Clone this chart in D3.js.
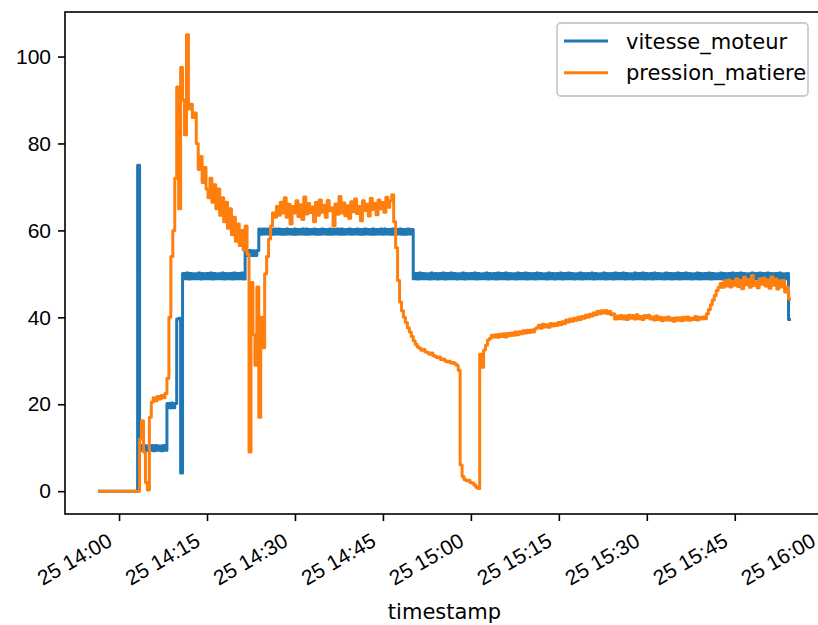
<!DOCTYPE html>
<html>
<head>
<meta charset="utf-8">
<script src="https://cdn.jsdelivr.net/npm/d3@7"></script>
<style>
  body { margin: 0; background: #fff; }
  svg { display: block; font-family: "DejaVu Sans", sans-serif; }
</style>
</head>
<body>
<svg id="chart"></svg>
<script>
// one reading every 20 s, first one at 13:56:40
const startTime = new Date(2023, 0, 25, 13, 56, 40)
const stepSeconds = 20

const seriesNames = ["vitesse_moteur", "pression_matiere"]
const yTicks = [0, 20, 40, 60, 80, 100]

// each row = 5 minutes (15 readings), first row is 13:56:40 -> 14:00:00
const vitesseMoteur = [
    0, 0, 0, 0, 0, 0, 0, 0, 0, 0, 0,
    0, 0, 0, 0, 0, 0, 0, 0, 0, 75, 10.5, 9.4, 10.5, 9.3, 10.4,
    9.4, 10.5, 9.3, 10.5, 9.4, 10.4, 9.3, 10.5, 9.4, 20.2, 19.2, 20.3, 19.2, 20.2, 39.6,
    39.8, 4.2, 50.1, 48.9, 50.2, 48.8, 50.1, 48.9, 50.0, 48.9, 50.2, 48.8, 50.1, 48.9, 50.1,
    48.9, 50.2, 48.8, 50.1, 48.9, 50.0, 48.9, 50.2, 48.8, 50.1, 48.9, 50.1, 48.8, 50.2, 48.9,
    50.1, 48.9, 50.2, 48.8, 55.4, 54.2, 55.4, 54.2, 55.3, 54.2, 55.4, 60.3, 59.1, 60.3, 59.2,
    60.3, 59.1, 60.2, 59.1, 60.3, 59.2, 60.3, 59.1, 60.2, 59.1, 60.3, 59.2, 60.2, 59.1, 60.3,
    59.1, 60.2, 59.2, 60.3, 59.1, 60.3, 59.1, 60.2, 59.2, 60.3, 59.1, 60.2, 59.1, 60.3, 59.2,
    60.2, 59.1, 60.3, 59.1, 60.2, 59.2, 60.3, 59.1, 60.3, 59.1, 60.2, 59.2, 60.3, 59.1, 60.2,
    59.2, 60.3, 59.1, 60.2, 59.1, 60.3, 59.2, 60.2, 59.1, 60.3, 59.1, 60.2, 59.2, 60.3, 59.1,
    60.3, 59.2, 60.2, 59.1, 60.3, 59.1, 60.2, 59.2, 60.3, 59.1, 60.2, 59.1, 60.3, 59.2, 60.2,
    48.9, 50.1, 48.8, 50.2, 48.9, 50.1, 48.9, 50.0, 48.8, 50.2, 48.9, 50.1, 48.8, 50.1, 48.9,
    50.2, 48.8, 50.1, 48.9, 50.2, 48.9, 50.1, 48.8, 50.0, 48.9, 50.2, 48.8, 50.1, 48.9, 50.1,
    48.9, 50.2, 48.8, 50.1, 48.9, 50.0, 48.9, 50.2, 48.8, 50.1, 48.9, 50.1, 48.8, 50.2, 48.9,
    50.1, 48.9, 50.2, 48.8, 50.1, 48.9, 50.0, 48.8, 50.2, 48.9, 50.1, 48.9, 50.2, 48.8, 50.1,
    48.9, 50.1, 48.8, 50.2, 48.9, 50.1, 48.9, 50.0, 48.8, 50.2, 48.9, 50.1, 48.8, 50.1, 48.9,
    50.2, 48.8, 50.1, 48.9, 50.2, 48.9, 50.1, 48.8, 50.0, 48.9, 50.2, 48.8, 50.1, 48.9, 50.1,
    48.9, 50.2, 48.8, 50.1, 48.9, 50.0, 48.9, 50.2, 48.8, 50.1, 48.9, 50.1, 48.8, 50.2, 48.9,
    50.1, 48.9, 50.2, 48.8, 50.1, 48.9, 50.0, 48.8, 50.2, 48.9, 50.1, 48.9, 50.2, 48.8, 50.1,
    48.9, 50.1, 48.8, 50.2, 48.9, 50.1, 48.9, 50.0, 48.8, 50.2, 48.9, 50.1, 48.8, 50.1, 48.9,
    50.2, 48.8, 50.1, 48.9, 50.2, 48.9, 50.1, 48.8, 50.0, 48.9, 50.2, 48.8, 50.1, 48.9, 50.1,
    48.9, 50.2, 48.8, 50.1, 48.9, 50.0, 48.9, 50.2, 48.8, 50.1, 48.9, 50.1, 48.8, 50.2, 48.9,
    50.1, 48.9, 50.2, 48.8, 50.1, 48.9, 50.0, 48.8, 50.2, 48.9, 50.1, 48.9, 50.2, 48.8, 50.1,
    48.9, 50.2, 48.8, 50.1, 48.9, 50.1, 48.8, 50.2, 48.9, 50.0, 48.9, 50.1, 39.5
]

const pressionMatiere = [
    0, 0, 0, 0, 0, 0, 0, 0, 0, 0, 0,
    0, 0, 0, 0, 0, 0, 0, 0, 0, 0, 12, 16.2, 9, 2, 0.3,
    17, 20.5, 21.5, 20.8, 21.8, 21.2, 22, 21.5, 22.5, 26, 40, 54, 60, 72, 93,
    65, 97.5, 90, 82, 105, 88, 89, 86, 87, 80, 74, 77, 71, 74.5, 69.5,
    67.5, 72, 66.5, 70.5, 65, 69.5, 63.5, 67.5, 62, 66.5, 60.5, 65, 59, 63, 57.5,
    61.5, 56.5, 60, 55.5, 61, 54.5, 9, 48, 36, 29, 47, 17, 40, 33, 50,
    54, 58, 61, 64, 63, 65.5, 63.5, 66.5, 64.0, 67.5, 63.0, 66.0, 61.5, 65.5, 64.0,
    66.8, 63.2, 65.9, 62.5, 67.7, 63.8, 66.2, 64.1, 65.4, 62.0, 66.5, 63.5, 67.0, 64.2, 65.8,
    63.0, 66.9, 64.5, 65.2, 61.0, 66.1, 63.7, 67.8, 64.0, 66.3, 63.4, 65.7, 62.8, 66.6, 64.3,
    67.2, 63.9, 65.5, 62.2, 66.8, 64.6, 66.0, 63.3, 67.4, 64.8, 66.2, 63.6, 67.0, 65.0, 66.4,
    64.2, 67.6, 65.3, 66.8, 68.2, 62, 56, 48.5, 43.5, 41.5, 40, 38.8, 37.6, 36.6, 35.6,
    34.6, 33.8, 33.2, 32.9, 32.4, 32.6, 32.0, 31.9, 31.5, 31.8, 31.2, 31.0, 30.7, 30.9, 30.3,
    30.4, 30.0, 29.8, 29.9, 29.5, 29.6, 29.3, 29.0, 27.8, 6, 3.4, 2.7, 2.4, 2.5, 2.0,
    1.9, 1.4, 0.9, 0.6, 31.5, 28.5, 32.5, 33.6, 34.8, 35.2, 35.9, 35.5, 36.0, 35.4, 36.1,
    35.6, 36.2, 35.5, 36.3, 35.8, 36.4, 35.9, 36.6, 36.0, 36.7, 36.2, 36.9, 36.4, 37.0, 36.5,
    37.1, 36.6, 37.3, 37.6, 38.2, 37.5, 38.4, 37.8, 38.3, 37.7, 38.6, 38.0, 38.5, 38.1, 38.8,
    38.3, 39.0, 38.6, 39.4, 38.9, 39.6, 39.1, 39.8, 39.3, 40.0, 39.5, 40.2, 39.8, 40.5, 40.0,
    40.7, 40.3, 41.0, 40.6, 41.4, 40.8, 41.5, 41.0, 41.6, 40.9, 41.4, 40.6, 40.8, 39.6, 40.3,
    39.7, 40.4, 39.6, 40.3, 39.5, 40.5, 39.8, 40.4, 39.6, 40.6, 39.7, 40.2, 39.5, 40.4, 39.9,
    40.5, 39.6, 40.1, 39.4, 40.3, 39.5, 40.0, 39.2, 39.9, 39.4, 40.1, 39.3, 39.8, 39.1, 39.9,
    39.3, 39.9, 39.2, 40.0, 39.4, 40.1, 39.3, 39.8, 39.5, 40.2, 39.4, 40.0, 39.6, 40.1, 39.7,
    40.8, 41.8, 42.9, 44.0, 45.0, 46.2, 46.9, 47.8, 46.9, 48.4, 47.2, 48.6, 47.0, 48.3, 47.4,
    48.9, 47.1, 48.5, 46.6, 49.2, 47.5, 48.7, 46.9, 49.6, 47.3, 48.2, 46.8, 48.9, 47.6, 49.0,
    47.2, 48.6, 46.7, 49.3, 47.4, 48.8, 46.5, 48.4, 47.0, 48.5, 45.8, 46.9, 44.2
]

const colors = ["#1f77b4", "#ff7f0e"]

const
    width = 818,
    height = 625,
    box = { left: 65, right: 824, top: 12, bottom: 514 },
    fontSize = 21

const timestamps = vitesseMoteur.map((_, i) => d3.timeSecond.offset(startTime, i * stepSeconds))

const series = [
    { name: seriesNames[0], color: colors[0], values: vitesseMoteur },
    { name: seriesNames[1], color: colors[1], values: pressionMatiere }
]

// matplotlib style 5% margins on both axes
const tExt = d3.extent(timestamps)
const tPad = (tExt[1] - tExt[0]) * 0.05
const x = d3.scaleTime()
    .domain([new Date(+tExt[0] - tPad), new Date(+tExt[1] + tPad)])
    .range([box.left, box.right])

const allValues = vitesseMoteur.concat(pressionMatiere)
const vMin = d3.min(allValues), vMax = d3.max(allValues)
const vPad = (vMax - vMin) * 0.05
const y = d3.scaleLinear()
    .domain([vMin - vPad, vMax + vPad])
    .range([box.bottom, box.top])

const svg = d3.select("#chart")
    .attr("width", width)
    .attr("height", height)
    .attr("viewBox", [0, 0, width, height])

svg.append("rect")
    .attr("width", width).attr("height", height)
    .attr("fill", "#fff")

// readings are dense, step curve keeps the noisy bands solid like the original
const line = d3.line()
    .x((d, i) => x(timestamps[i]))
    .y(d => y(d))
    .curve(d3.curveStep)

svg.append("defs").append("clipPath").attr("id", "plot")
    .append("rect")
    .attr("x", box.left).attr("y", box.top)
    .attr("width", box.right - box.left).attr("height", box.bottom - box.top)

svg.append("g")
    .attr("clip-path", "url(#plot)")
    .selectAll("path")
    .data(series)
    .join("path")
    .attr("d", d => line(d.values))
    .attr("fill", "none")
    .attr("stroke", d => d.color)
    .attr("stroke-width", 3)
    .attr("stroke-linejoin", "round")
    .attr("stroke-linecap", "square")

// x axis
const xAxis = g => g
    .attr("transform", `translate(0,${box.bottom})`)
    .call(d3.axisBottom(x)
        .ticks(d3.timeMinute.every(15))
        .tickFormat(d3.timeFormat("%d %H:%M"))
        .tickSize(7)
        .tickSizeOuter(0))
    .call(g => g.select(".domain").remove())
    .call(g => g.selectAll(".tick line").attr("stroke", "#000").attr("stroke-width", 1.6))
    .call(g => g.selectAll(".tick text")
        .attr("x", 0).attr("y", 0).attr("dy", null)
        .attr("text-anchor", "end")
        .attr("transform", "translate(-6,31) rotate(-30)")
        .attr("fill", "#000")
        .style("font-size", fontSize + "px"))

const yAxis = g => g
    .attr("transform", `translate(${box.left},0)`)
    .call(d3.axisLeft(y).tickValues(yTicks).tickSize(7).tickPadding(7))
    .call(g => g.select(".domain").remove())
    .call(g => g.selectAll(".tick line").attr("stroke", "#000").attr("stroke-width", 1.6))
    .call(g => g.selectAll(".tick text")
        .attr("fill", "#000")
        .style("font-size", fontSize + "px"))

svg.append("g").attr("class", "x-axis").call(xAxis)
svg.append("g").attr("class", "y-axis").call(yAxis)

// frame
svg.append("rect")
    .attr("x", box.left).attr("y", box.top)
    .attr("width", box.right - box.left).attr("height", box.bottom - box.top)
    .attr("fill", "none")
    .attr("stroke", "#000")
    .attr("stroke-width", 1.6)

svg.append("text")
    .attr("x", (box.left + box.right) / 2)
    .attr("y", 619)
    .attr("text-anchor", "middle")
    .style("font-size", fontSize + "px")
    .text("timestamp")

// legend
const legend = svg.append("g").attr("transform", "translate(557,23)")

legend.append("rect")
    .attr("width", 251).attr("height", 73)
    .attr("rx", 4)
    .attr("fill", "#fff").attr("fill-opacity", 0.8)
    .attr("stroke", "#cccccc").attr("stroke-width", 1.8)

const item = legend.selectAll(".item")
    .data(series)
    .join("g")
    .attr("class", "item")
    .attr("transform", (d, i) => `translate(0,${18 + i * 31.7})`)

item.append("line")
    .attr("x1", 7).attr("x2", 51)
    .attr("stroke", d => d.color)
    .attr("stroke-width", 3)

item.append("text")
    .attr("x", 69).attr("y", 7.5)
    .style("font-size", fontSize + "px")
    .text(d => d.name)
</script>
</body>
</html>
